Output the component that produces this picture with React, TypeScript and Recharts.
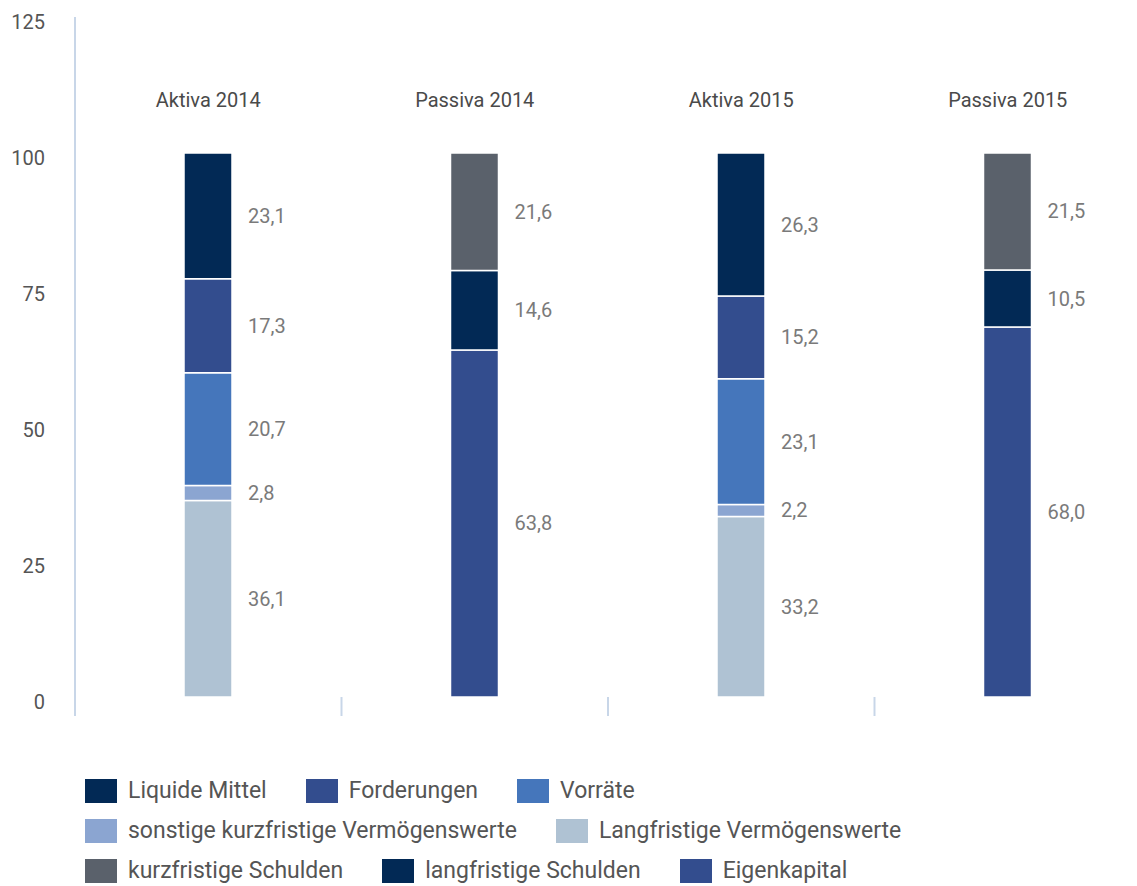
import React from "react";
import { BarChart, Bar, XAxis, YAxis, Legend, LabelList } from "recharts";

const categories = ["Aktiva 2014", "Passiva 2014", "Aktiva 2015", "Passiva 2015"];
const langfristigeVermoegenswerte = [36.1, null, 33.2, null];
const sonstigeKurzfristige = [2.8, null, 2.2, null];
const vorraete = [20.7, null, 23.1, null];
const forderungen = [17.3, null, 15.2, null];
const liquideMittel = [23.1, null, 26.3, null];
const eigenkapital = [null, 63.8, null, 68.0];
const langfristigeSchulden = [null, 14.6, null, 10.5];
const kurzfristigeSchulden = [null, 21.6, null, 21.5];
const yTicks = [0, 25, 50, 75, 100, 125];
const dividerTicks = [0, 1, 2, 3];

// stack order, bottom to top
const series = [
  { key: "langV", name: "Langfristige Vermögenswerte", color: "#afc2d3", values: langfristigeVermoegenswerte },
  { key: "sonst", name: "sonstige kurzfristige Vermögenswerte", color: "#8ba5d1", values: sonstigeKurzfristige },
  { key: "vorr", name: "Vorräte", color: "#4576bb", values: vorraete },
  { key: "ford", name: "Forderungen", color: "#334d8e", values: forderungen },
  { key: "liq", name: "Liquide Mittel", color: "#022955", values: liquideMittel },
  { key: "eigen", name: "Eigenkapital", color: "#334d8e", values: eigenkapital },
  { key: "langS", name: "langfristige Schulden", color: "#022955", values: langfristigeSchulden },
  { key: "kurzS", name: "kurzfristige Schulden", color: "#5a616b", values: kurzfristigeSchulden },
];

const legendRows = [
  ["liq", "ford", "vorr"],
  ["sonst", "langV"],
  ["kurzS", "langS", "eigen"],
];

const data = categories.map((name, i) => {
  const row: Record<string, any> = { name, pos: i + 0.5 };
  series.forEach((s) => {
    row[s.key] = s.values[i];
  });
  return row;
});

const fmt = (v: number) => v.toFixed(1).replace(".", ",");

const ValueLabel = (props: any) => {
  const { x, y, width, height, value } = props;
  if (value == null) return null;
  return (
    <text
      x={x + width + 16}
      y={y + height / 2}
      dominantBaseline="central"
      fill="#7a7a7a"
      fontSize={20}
    >
      {fmt(value)}
    </text>
  );
};

const renderCategoryTick = (props: any) => {
  const { x, y, payload } = props;
  return (
    <text x={x} y={y + 90} textAnchor="middle" fill="#4a4a4a" fontSize={20}>
      {payload.value}
    </text>
  );
};

const renderLegend = () => (
  <div style={{ display: "flex", flexDirection: "column", gap: 16 }}>
    {legendRows.map((row, ri) => (
      <div key={ri} style={{ display: "flex", gap: 39, alignItems: "center" }}>
        {row.map((k) => {
          const s = series.find((d) => d.key === k)!;
          return (
            <div key={k} style={{ display: "flex", alignItems: "center", gap: 11 }}>
              <span style={{ width: 32, height: 24, background: s.color, display: "inline-block" }} />
              <span style={{ fontSize: 23, color: "#555", lineHeight: "24px" }}>{s.name}</span>
            </div>
          );
        })}
      </div>
    ))}
  </div>
);

export default function App() {
  return (
    <div
      style={{
        position: "absolute",
        left: 0,
        top: 0,
        width: 1137,
        height: 886,
        overflow: "hidden",
        background: "#fff",
        fontFamily: "Roboto, sans-serif",
      }}
    >
      <BarChart
        width={1150}
        height={886}
        data={data}
        margin={{ top: 16, right: 9, bottom: 170, left: 0 }}
      >
        <XAxis
          xAxisId="cat"
          dataKey="name"
          orientation="top"
          height={1}
          axisLine={false}
          tickLine={false}
          tickSize={0}
          tickMargin={0}
          tick={renderCategoryTick}
          interval={0}
        />
        <XAxis
          xAxisId="div"
          dataKey="pos"
          type="number"
          domain={[0, 4]}
          ticks={dividerTicks}
          allowDataOverflow
          height={19}
          axisLine={false}
          tickSize={19}
          tickLine={{ stroke: "#c8d6e8", strokeWidth: 2 }}
          tick={() => <g />}
        />
        <YAxis
          domain={[0, 125]}
          ticks={yTicks}
          width={75}
          axisLine={{ stroke: "#c8d6e8", strokeWidth: 2 }}
          tickLine={false}
          tickSize={0}
          tickMargin={30}
          tick={{ fill: "#555", fontSize: 20, dy: 5 }}
        />
        <Legend
          verticalAlign="middle"
          align="center"
          layout="horizontal"
          content={renderLegend}
          wrapperStyle={{ top: 779, left: 85, width: "auto" }}
        />
        {series.map((s) => (
          <Bar
            key={s.key}
            xAxisId="cat"
            dataKey={s.key}
            name={s.name}
            stackId="a"
            fill={s.color}
            stroke="#ffffff"
            strokeWidth={1.5}
            barSize={48}
            isAnimationActive={false}
          >
            <LabelList dataKey={s.key} content={<ValueLabel />} />
          </Bar>
        ))}
      </BarChart>
    </div>
  );
}
